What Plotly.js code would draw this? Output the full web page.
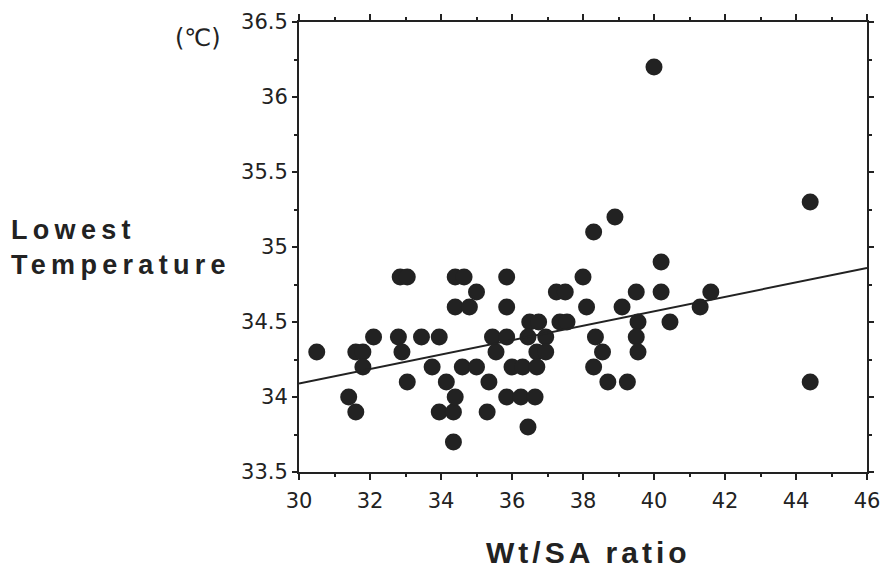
<!DOCTYPE html>
<html>
<head>
<meta charset="utf-8">
<script src="https://cdn.plot.ly/plotly-3.0.1.min.js"></script>
<style>
html, body { margin: 0; padding: 0; background: #ffffff; }
#chart { width: 886px; height: 570px; }
</style>
</head>
<body>
<div id="chart"></div>
<script>
// Wt/SA ratio (x) vs lowest temperature in °C (y)
const wtSaRatio = [
  30.5, 31.6, 31.8, 31.8, 32.1, 31.4, 31.6,
  32.85, 33.05, 32.8, 32.9, 33.05, 33.45, 33.95, 33.75, 34.15,
  33.95, 34.35, 34.4, 34.35,
  34.4, 34.65, 35.0, 34.4, 34.8, 34.6, 35.0,
  35.35, 35.3, 35.45, 35.85, 35.55, 35.85, 35.85,
  36.5, 36.75, 36.45, 36.95, 36.7, 36.95,
  36.0, 36.3, 36.7, 35.85, 36.25, 36.65, 36.45,
  37.25, 37.5, 37.35, 37.55,
  38.0, 38.1, 38.3, 38.9, 38.35, 38.55, 38.3, 38.7, 39.25,
  39.1, 39.5, 39.55, 39.5, 39.55,
  40.0, 40.2, 40.2, 40.45,
  41.3, 41.6, 44.4, 44.4
];
const lowestTemp = [
  34.3, 34.3, 34.3, 34.2, 34.4, 34.0, 33.9,
  34.8, 34.8, 34.4, 34.3, 34.1, 34.4, 34.4, 34.2, 34.1,
  33.9, 33.9, 34.0, 33.7,
  34.8, 34.8, 34.7, 34.6, 34.6, 34.2, 34.2,
  34.1, 33.9, 34.4, 34.4, 34.3, 34.8, 34.6,
  34.5, 34.5, 34.4, 34.4, 34.3, 34.3,
  34.2, 34.2, 34.2, 34.0, 34.0, 34.0, 33.8,
  34.7, 34.7, 34.5, 34.5,
  34.8, 34.6, 35.1, 35.2, 34.4, 34.3, 34.2, 34.1, 34.1,
  34.6, 34.7, 34.5, 34.4, 34.3,
  36.2, 34.9, 34.7, 34.5,
  34.6, 34.7, 35.3, 34.1
];
// regression line end points
const fitX = [30, 46];
const fitY = [34.09, 34.86];

const xTickVals = [30, 32, 34, 36, 38, 40, 42, 44, 46];
const yTickVals = [33.5, 34, 34.5, 35, 35.5, 36, 36.5];
const xTickText = ['30', '32', '34', '36', '38', '40', '42', '44', '46'];
const yTickText = ['33.5', '34', '34.5', '35', '35.5', '36', '36.5'];

const ink = '#222222';

const traces = [
  {
    x: wtSaRatio, y: lowestTemp, type: 'scatter', mode: 'markers',
    marker: { size: 17, color: ink, line: { width: 0 } },
    hoverinfo: 'x+y', showlegend: false
  },
  {
    x: fitX, y: fitY, type: 'scatter', mode: 'lines',
    line: { color: ink, width: 2 }, hoverinfo: 'skip', showlegend: false
  }
];

const axisCommon = {
  showgrid: false, zeroline: false, showline: true, linecolor: ink, linewidth: 2,
  mirror: 'allticks', ticks: 'outside', tickcolor: ink, tickwidth: 2,
  tickfont: { family: 'DejaVu Sans, sans-serif', size: 21, color: ink },
  fixedrange: true
};

const layout = {
  width: 886, height: 570,
  margin: { l: 299, r: 19, t: 22, b: 98 },
  paper_bgcolor: '#ffffff', plot_bgcolor: '#ffffff',
  showlegend: false,
  xaxis: Object.assign({}, axisCommon, {
    range: [30, 46], tickmode: 'array', tickvals: xTickVals, ticktext: xTickText,
    ticklen: 6, ticklabelstandoff: 3,
    minor: { dtick: 1, ticklen: 3, tickcolor: ink, tickwidth: 2, ticks: 'outside', showgrid: false }
  }),
  yaxis: Object.assign({}, axisCommon, {
    range: [33.5, 36.5], tickmode: 'array', tickvals: yTickVals, ticktext: yTickText,
    ticklen: 5,
    minor: { dtick: 0.25, tick0: 33.5, ticklen: 3, tickcolor: ink, tickwidth: 2, ticks: 'outside', showgrid: false }
  }),
  annotations: [
    {
      text: 'Lowest<br>Temperature', xref: 'paper', yref: 'paper',
      x: -0.509, y: 0.499, xanchor: 'left', yanchor: 'middle', align: 'left',
      showarrow: false, borderpad: 0,
      font: { family: 'Liberation Sans, Arial, sans-serif', size: 27, color: ink, weight: 'bold' }
    },
    {
      text: 'Wt/SA ratio', xref: 'paper', yref: 'paper',
      x: 0.5097, y: -0.178, xanchor: 'center', yanchor: 'middle',
      showarrow: false, borderpad: 0,
      font: { family: 'Liberation Sans, Arial, sans-serif', size: 30, color: ink, weight: 'bold' }
    },
    {
      text: '(℃)', xref: 'paper', yref: 'paper',
      x: -0.178, y: 0.964, xanchor: 'center', yanchor: 'middle',
      showarrow: false, borderpad: 0,
      font: { family: 'DejaVu Sans, sans-serif', size: 24, color: ink }
    }
  ]
};

Plotly.newPlot('chart', traces, layout, { displayModeBar: false, staticPlot: true }).then(function (gd) {
  const texts = gd.querySelectorAll('.annotation-text');
  const spacing = ['5.3px', '4px', '0px'];
  texts.forEach(function (t, i) {
    t.style.letterSpacing = spacing[i] || '0px';
  });
});
</script>
</body>
</html>
